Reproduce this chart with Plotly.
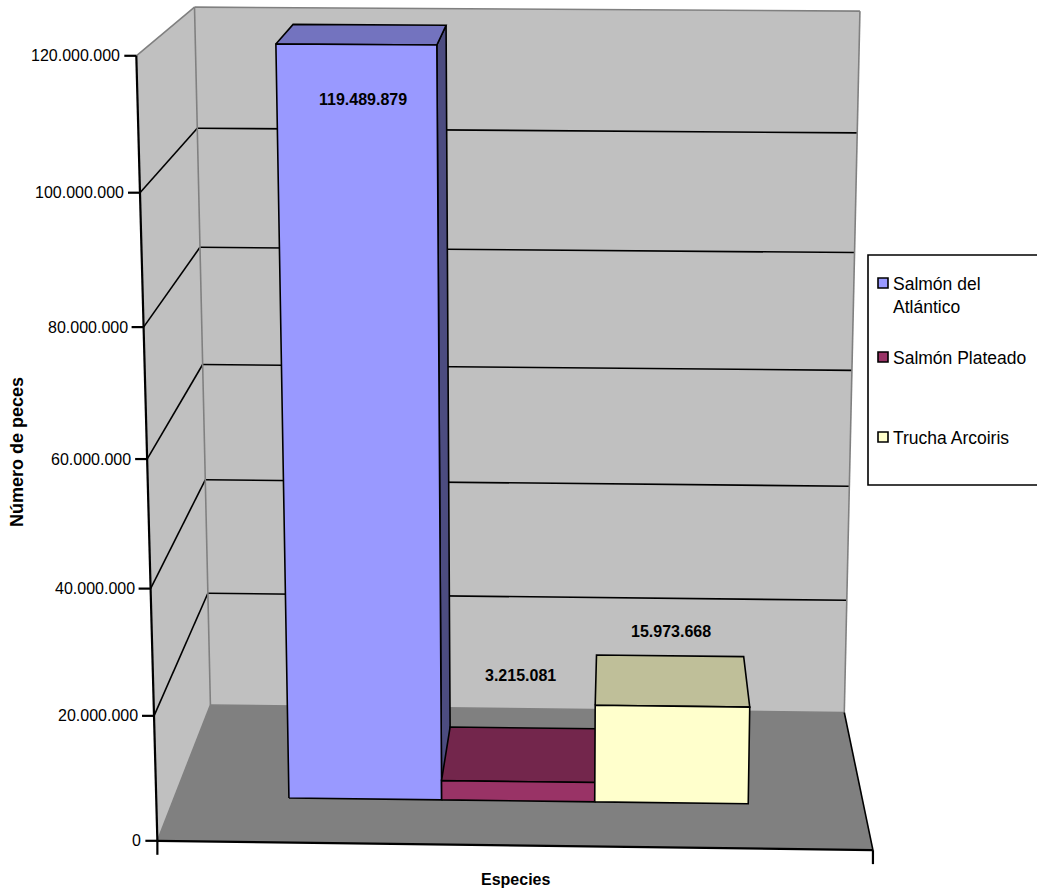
import numpy as np
import plotly.graph_objects as go

# ---------------------------------------------------------------- data
species = ["Salmón del Atlántico", "Salmón Plateado", "Trucha Arcoiris"]
legend_labels = ["Salmón del<br>Atlántico", "Salmón Plateado", "Trucha Arcoiris"]
fish_counts = [119489879, 3215081, 15973668]
bar_colors = ["#9999FF", "#993366", "#FFFFCC"]
value_ticks = [0, 20000000, 40000000, 60000000, 80000000, 100000000, 120000000]
y_title = "Número de peces"
x_title = "Especies"

# ---------------------------------------------------------------- page / style
W, H = 1037, 892
V_MAX = value_ticks[-1]
FONT = "Arial, 'Liberation Sans', sans-serif"
WALL = "#C0C0C0"
FLOOR = "#808080"
EDGE = "#808080"
GAP_WIDTH = 1.5   # space between clusters, as a fraction of one bar's width
GAP_DEPTH = 1.5   # space in front of / behind the bars, as a fraction of their depth

# The plot box is a unit cube: u runs across, v up (value / V_MAX), w into depth.
# These anchors say where the box corners and the gridline ends sit on the page;
# a 3x4 perspective camera is solved from them.
FRAME_ANCHORS = [
    ((0, 0, 0), (157, 841)), ((0, 1, 0), (137, 57)),
    ((0, 0, 1), (211, 705)), ((0, 1, 1), (194, 7)),
    ((1, 0, 1), (845, 712)), ((1, 1, 1), (860, 11)),
    ((1, 0, 0), (873, 850)),
    ((0, 1 / 6, 0), (154, 716)), ((0, 2 / 6, 0), (151, 589)), ((0, 3 / 6, 0), (147, 459)),
    ((0, 4 / 6, 0), (143, 326)), ((0, 5 / 6, 0), (140, 192)),
    ((0, 1 / 6, 1), (208, 593)), ((0, 2 / 6, 1), (205, 480)), ((0, 3 / 6, 1), (202, 364)),
    ((0, 4 / 6, 1), (200, 248)), ((0, 5 / 6, 1), (198, 128)),
    ((1, 1 / 6, 1), (846, 600)), ((1, 2 / 6, 1), (849, 487)), ((1, 3 / 6, 1), (852, 371)),
    ((1, 4 / 6, 1), (855, 253)), ((1, 5 / 6, 1), (857, 132)),
]
# vertical nudge (px, up is positive) of each value label from its bar's top
LABEL_YSHIFT = [-65, 79, 49]


def solve_camera(anchors, scale=1000.0):
    rows = []
    for (X, Y, Z), (x, y) in anchors:
        p = [X, Y, Z, 1.0]
        x, y = x / scale, y / scale
        rows.append(p + [0, 0, 0, 0] + [-x * c for c in p])
        rows.append([0, 0, 0, 0] + p + [-y * c for c in p])
    _, _, vt = np.linalg.svd(np.array(rows, dtype=float))
    return vt[-1].reshape(3, 4), scale


CAM, CAM_SCALE = solve_camera(FRAME_ANCHORS)


def project(u, v, w):
    h = CAM @ np.array([u, v, w, 1.0])
    return (h[0] / h[2] * CAM_SCALE, h[1] / h[2] * CAM_SCALE)


def shade(hex_color, f):
    hex_color = hex_color.lstrip("#")
    r, g, b = (int(hex_color[i:i + 2], 16) for i in (0, 2, 4))
    return "rgb({},{},{})".format(round(r * f), round(g * f), round(b * f))


def signed_area(pts):
    s = 0.0
    for i in range(len(pts)):
        x1, y1 = pts[i]
        x2, y2 = pts[(i + 1) % len(pts)]
        s += x1 * y2 - x2 * y1
    return s


fig = go.Figure()


def polygon(pts3d, fill, line_color=None, width=0):
    pts = [project(*p) for p in pts3d]
    xs = [p[0] for p in pts] + [pts[0][0]]
    ys = [p[1] for p in pts] + [pts[0][1]]
    fig.add_trace(go.Scatter(
        x=xs, y=ys, mode="lines", fill="toself", fillcolor=fill,
        line=dict(color=line_color or fill, width=width if line_color else 0),
        hoverinfo="skip", showlegend=False))


def segments(segs3d, color, width):
    xs, ys = [], []
    for a, b in segs3d:
        pa, pb = project(*a), project(*b)
        xs += [pa[0], pb[0], None]
        ys += [pa[1], pb[1], None]
    fig.add_trace(go.Scatter(x=xs, y=ys, mode="lines",
                             line=dict(color=color, width=width),
                             hoverinfo="skip", showlegend=False))


def page_lines(segs, color, width):
    xs, ys = [], []
    for (x0, y0), (x1, y1) in segs:
        xs += [x0, x1, None]
        ys += [y0, y1, None]
    fig.add_trace(go.Scatter(x=xs, y=ys, mode="lines",
                             line=dict(color=color, width=width),
                             hoverinfo="skip", showlegend=False))


# ---------------------------------------------------------------- walls and floor
polygon([(0, 0, 1), (1, 0, 1), (1, 1, 1), (0, 1, 1)], WALL)          # back wall
polygon([(0, 0, 0), (0, 0, 1), (0, 1, 1), (0, 1, 0)], WALL)          # side wall
polygon([(0, 0, 0), (1, 0, 0), (1, 0, 1), (0, 0, 1)], FLOOR)         # floor

grid_v = [t / V_MAX for t in value_ticks[1:-1]]
segments([((0, v, 1), (1, v, 1)) for v in grid_v] +
         [((0, v, 0), (0, v, 1)) for v in grid_v], "black", 1.6)

segments([((0, 1, 0), (0, 1, 1)), ((0, 1, 1), (1, 1, 1)), ((1, 1, 1), (1, 0, 1)),
          ((0, 1, 1), (0, 0, 1)), ((0, 0, 1), (1, 0, 1)), ((0, 0, 0), (0, 0, 1))],
         EDGE, 1.6)
segments([((1, 0, 0), (1, 0, 1))], "black", 1.6)
segments([((0, 0, 0), (0, 1, 0)), ((0, 0, 0), (1, 0, 0))], "black", 2.2)

# value-axis ticks and labels along the front-left edge
tick_segs = []
for t in value_ticks:
    x, y = project(0, t / V_MAX, 0)
    tick_segs.append(((x - 12, y), (x, y)))
    fig.add_annotation(x=x - 14, y=y, text=f"{t:,}".replace(",", "."),
                       xanchor="right", yanchor="middle", showarrow=False,
                       font=dict(family=FONT, size=16, color="black"))
for u in (0, 1):
    x, y = project(u, 0, 0)
    tick_segs.append(((x, y), (x, y + 14)))
page_lines(tick_segs, "black", 2.2)

# ---------------------------------------------------------------- bars
n = len(fish_counts)
bar_w = 1.0 / (n + GAP_WIDTH)
depth = 1.0 / (1.0 + GAP_DEPTH)
w0, w1 = (1 - depth) / 2, (1 + depth) / 2
front_sign = None

for i, (count, color) in enumerate(zip(fish_counts, bar_colors)):
    u0 = GAP_WIDTH / 2 * bar_w + i * bar_w
    u1 = u0 + bar_w
    v = count / V_MAX
    faces = {
        "front": [(u0, 0, w0), (u1, 0, w0), (u1, v, w0), (u0, v, w0)],
        "top": [(u0, v, w0), (u1, v, w0), (u1, v, w1), (u0, v, w1)],
        "right": [(u1, 0, w0), (u1, 0, w1), (u1, v, w1), (u1, v, w0)],
        "left": [(u0, 0, w1), (u0, 0, w0), (u0, v, w0), (u0, v, w1)],
    }
    tones = {"front": 1.0, "top": 0.75, "right": 0.5, "left": 0.5}
    if front_sign is None:
        front_sign = np.sign(signed_area([project(*p) for p in faces["front"]]))
    for name in ("left", "right", "top", "front"):
        pts = [project(*p) for p in faces[name]]
        if np.sign(signed_area(pts)) != front_sign or abs(signed_area(pts)) < 1:
            continue
        polygon(faces[name], shade(color, tones[name]), "black", 1.6)

    lx, ly = project((u0 + u1) / 2, v, 0.5)
    fig.add_annotation(x=lx, y=ly, yshift=LABEL_YSHIFT[i],
                       text="<b>" + f"{count:,}".replace(",", ".") + "</b>",
                       showarrow=False, xanchor="center", yanchor="middle",
                       font=dict(family=FONT, size=16, color="black"))

# ---------------------------------------------------------------- titles
fig.add_annotation(x=17, y=452, text="<b>" + y_title + "</b>", textangle=-90,
                   showarrow=False, xanchor="center", yanchor="middle",
                   font=dict(family=FONT, size=18, color="black"))
fig.add_annotation(x=515, y=879, text="<b>" + x_title + "</b>",
                   showarrow=False, xanchor="center", yanchor="middle",
                   font=dict(family=FONT, size=16, color="black"))

# ---------------------------------------------------------------- legend
fig.add_shape(type="rect", x0=868, y0=255, x1=1046, y1=485,
              line=dict(color="black", width=1.6), fillcolor="white", layer="above")
legend_rows = [283, 357, 437]
for label, color, yc in zip(legend_labels, bar_colors, legend_rows):
    fig.add_shape(type="rect", x0=878, y0=yc - 5, x1=888, y1=yc + 5,
                  line=dict(color="black", width=1.6), fillcolor=color, layer="above")
    fig.add_annotation(x=891, y=yc - 11.5, text=label, showarrow=False,
                       xanchor="left", yanchor="top", align="left",
                       font=dict(family=FONT, size=17.5, color="black"))

fig.update_layout(
    width=W, height=H, margin=dict(l=0, r=0, t=0, b=0),
    xaxis=dict(range=[0, W], visible=False, fixedrange=True),
    yaxis=dict(range=[H, 0], visible=False, fixedrange=True),
    plot_bgcolor="white", paper_bgcolor="white", showlegend=False,
)

fig.write_html("out.html")
